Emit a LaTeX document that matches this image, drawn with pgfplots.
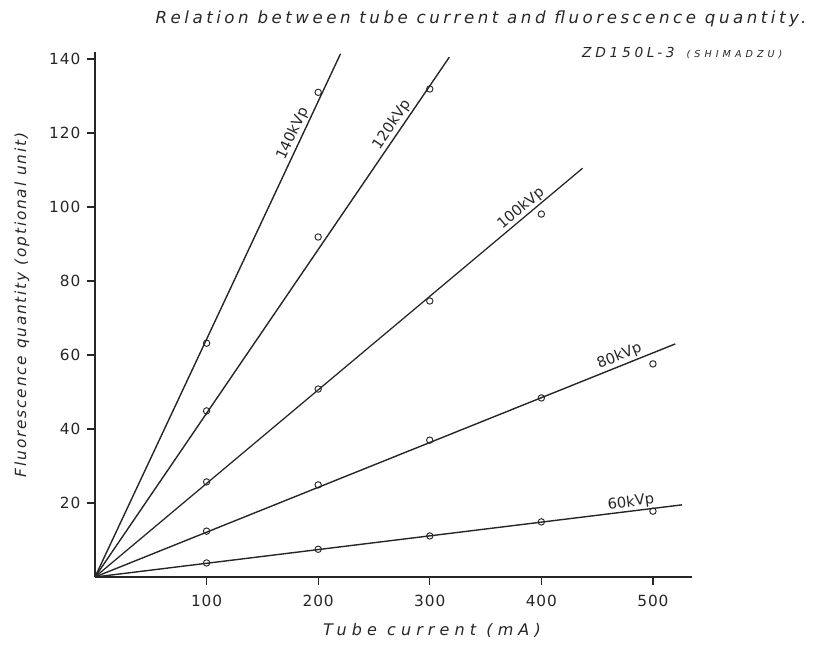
\documentclass[border=0pt]{standalone}
\usepackage{fontspec}
\usepackage{pgfplots}
\pgfplotsset{compat=1.18}
\setmainfont{DejaVu Sans}
\definecolor{ink}{HTML}{262626}
\tikzset{line label/.style={sloped, above, inner sep=1.2pt, text=ink,
    font=\fontsize{11}{12}\selectfont}}
\pgfplotsset{
  fit line/.style={ink, line width=1.05pt, no marks},
  measured/.style={only marks, mark=o, mark size=2.4pt, ink, mark options={line width=0.7pt, fill=white}},
}

\begin{document}
\begin{tikzpicture}
\path[use as bounding box] (-71.25pt,-50.25pt) rectangle (546.75pt,432.75pt);
\begin{axis}[
  scale only axis, width=447.75pt, height=393.75pt,
  xmin=0, xmax=535, ymin=0, ymax=141.9,
  axis lines=left,
  axis line style={-, ink, line width=1.05pt},
  xtick={100,200,300,400,500},
  ytick={20,40,60,80,100,120,140},
  tick align=outside, major tick length=6pt,
  tick style={ink, line width=1pt},
  /pgf/number format/assume math mode=true,
  ticklabel style={font=\fontsize{11.5}{13}\selectfont\addfontfeatures{LetterSpace=6}, text=ink},
  xticklabel style={yshift=-4pt},
  yticklabel style={xshift=-1.5pt},
  title={Relation between tube current and fluorescence quantity.},
  title style={at={(axis description cs:0.6466,1.048)}, anchor=center,
    font=\itshape\fontsize{12.5}{14}\selectfont\addfontfeatures{LetterSpace=21}, text=ink},
  xlabel={Tube current (mA)},
  ylabel={Fluorescence quantity (optional unit)},
  every axis x label/.style={at={(axis description cs:0.5645,-0.101)}, anchor=center,
    font=\itshape\fontsize{12}{14}\selectfont\addfontfeatures{LetterSpace=32}, text=ink},
  every axis y label/.style={at={(axis description cs:-0.1223,0.518)}, anchor=center, rotate=90,
    font=\itshape\fontsize{11.5}{13}\selectfont\addfontfeatures{LetterSpace=12}, text=ink},
  clip=false,
]
% fitted straight lines through the origin
\addplot[fit line] coordinates {(0,0) (220,141.4)} node[line label, pos=0.84] {140kVp};
\addplot[fit line] coordinates {(0,0) (317.5,140.5)} node[line label, pos=0.86] {120kVp};
\addplot[fit line, line width=0.95pt] coordinates {(0,0) (437,110.5)} node[line label, pos=0.885, inner sep=0.6pt] {100kVp};
\addplot[fit line] coordinates {(0,0) (520,63)} node[line label, pos=0.91] {80kVp};
\addplot[fit line] coordinates {(0,0) (526,19.5)} node[line label, pos=0.915, inner sep=0.6pt] {60kVp};
% measured values
\addplot[measured] coordinates {(100,63.2) (200,131)};
\addplot[measured] coordinates {(100,44.9) (200,91.9) (300,131.9)};
\addplot[measured] coordinates {(100,25.7) (200,50.8) (300,74.6) (400,98.1)};
\addplot[measured] coordinates {(100,12.4) (200,24.9) (300,37.0) (400,48.4) (500,57.6)};
\addplot[measured] coordinates {(100,3.8) (200,7.5) (300,11.1) (400,14.9) (500,17.8)};
\node[anchor=west, text=ink, inner sep=0pt] at (axis description cs:0.8157,0.998)
  {\itshape\fontsize{10.3}{12}\selectfont\addfontfeatures{LetterSpace=27}ZD150L-3\hspace{9pt}\fontsize{7.2}{9}\selectfont\addfontfeatures{LetterSpace=42}(SHIMADZU)};
\end{axis}
\end{tikzpicture}
\end{document}
